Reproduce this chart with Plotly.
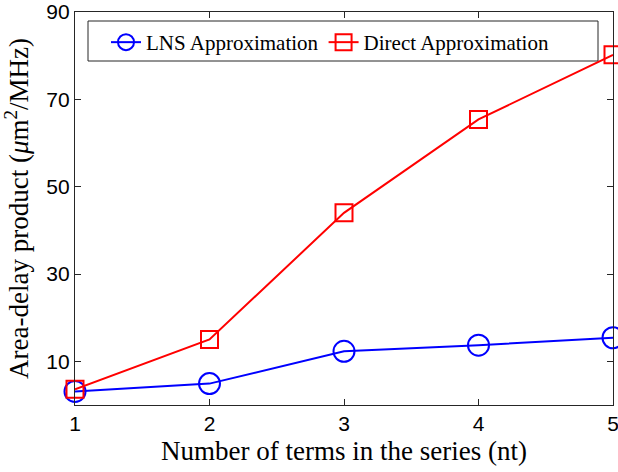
import plotly.graph_objects as go

terms = [1, 2, 3, 4, 5]
lns_values = [3.1, 4.9, 12.3, 13.7, 15.4]
direct_values = [3.6, 15.0, 44.0, 65.4, 80.2]
y_ticks = [10, 30, 50, 70, 90]
x_ticks = [1, 2, 3, 4, 5]

serif = "Liberation Serif, DejaVu Serif, serif"
sans = "Liberation Sans, Arial, sans-serif"

fig = go.Figure()
fig.add_trace(go.Scatter(
    x=terms, y=lns_values, mode="lines+markers", name="LNS Approximation",
    line=dict(color="#0000ff", width=2),
    marker=dict(symbol="circle-open", size=21, color="#0000ff", line=dict(width=2)),
    cliponaxis=False,
))
fig.add_trace(go.Scatter(
    x=terms, y=direct_values, mode="lines+markers", name="Direct Approximation",
    line=dict(color="#ff0000", width=2),
    marker=dict(symbol="square-open", size=17, color="#ff0000", line=dict(width=2)),
    cliponaxis=False,
))

axis_common = dict(
    showgrid=False, zeroline=False, showline=True, linecolor="#262626", linewidth=1.2,
    mirror="ticks", ticks="inside", ticklen=6, tickcolor="#262626",
    tickfont=dict(family=sans, size=21, color="#000000"),
    automargin=False, ticklabeloverflow="allow",
)

L0, L1, B0, T0 = 75, 613, 405, 12
def px_x(p):
    return (p - L0) / (L1 - L0)
def px_y(p):
    return (B0 - p) / (B0 - T0)

fig.add_shape(type="rect", xref="paper", yref="paper",
              x0=px_x(88), x1=px_x(598), y0=px_y(61), y1=px_y(21),
              line=dict(color="#262626", width=1), fillcolor="white", layer="below")

fig.update_layout(
    width=618, height=472,
    margin=dict(l=75, r=5, t=12, b=67),
    paper_bgcolor="white", plot_bgcolor="white",
    showlegend=True,
    legend=dict(
        orientation="h", x=px_x(106), y=px_y(22), xanchor="left", yanchor="top",
        borderwidth=0, bgcolor="rgba(0,0,0,0)",
        font=dict(family=serif, size=21, color="#000000"),
    ),
    xaxis=dict(range=[1, 5], tickvals=x_ticks,
               title=dict(text="Number of terms in the series (nt)",
                          font=dict(family=serif, size=27, color="#000000"), standoff=6),
               **axis_common),
    yaxis=dict(range=[0, 90], tickvals=y_ticks,
               title=dict(text="Area-delay product (<i>μ</i>m<sup>2</sup>/MHz)",
                          font=dict(family=serif, size=27, color="#000000"), standoff=14),
               **axis_common),
)

fig.write_html("out.html", config={"displayModeBar": False},
               post_script="document.body.style.margin='0';")
